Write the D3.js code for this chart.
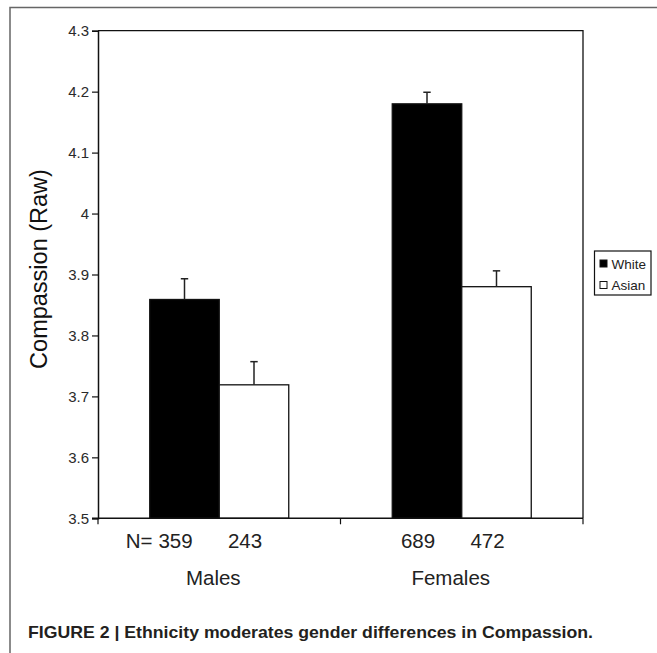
<!DOCTYPE html>
<html>
<head>
<meta charset="utf-8">
<script src="https://cdn.jsdelivr.net/npm/d3@7"></script>
<style>
  html, body { margin: 0; padding: 0; background: #fff; }
  svg { display: block; }
  text { font-family: "Liberation Sans", Arial, sans-serif; }
</style>
</head>
<body>
<svg id="chart" width="657" height="653"></svg>
<script>
// ---- data ----
const groups = ["Males", "Females"];
const series = ["White", "Asian"];
const means = [[3.859, 3.719], [4.180, 3.880]];   // [group][series]
const errors = [[0.034, 0.038], [0.019, 0.026]];
const counts = [[359, 243], [689, 472]];
const yTicks = [3.5, 3.6, 3.7, 3.8, 3.9, 4, 4.1, 4.2, 4.3];
const seriesFill = ["#000000", "#ffffff"];
const yTitle = "Compassion (Raw)";
const caption = "FIGURE 2 | Ethnicity moderates gender differences in Compassion.";

// ---- layout ----
const svg = d3.select("#chart");
const L = 98, R = 583, T = 30.7, B = 518.3;

// outer figure frame (top and left visible)
svg.append("path")
  .attr("d", `M10,653 L10,7.5 L657,7.5`)
  .attr("fill", "none").attr("stroke", "#666").attr("stroke-width", 1.5);

const y = d3.scaleLinear().domain([3.5, 4.3]).range([B, T]);
const x0 = d3.scaleBand().domain(groups).range([L, R]).padding(0);
const groupW = 139;
const x1 = d3.scaleBand().domain(series)
  .range([(x0.bandwidth() - groupW) / 2, (x0.bandwidth() + groupW) / 2]).padding(0);

// plot frame top and right
svg.append("path")
  .attr("d", `M${L},${T} L${R},${T} L${R},${B}`)
  .attr("fill", "none").attr("stroke", "#111").attr("stroke-width", 1.3);

// bars
const gBars = svg.append("g");
groups.forEach((g, gi) => {
  series.forEach((s, si) => {
    const bx = x0(g) + x1(s);
    gBars.append("rect")
      .attr("x", bx).attr("y", y(means[gi][si]))
      .attr("width", x1.bandwidth())
      .attr("height", B - y(means[gi][si]))
      .attr("fill", seriesFill[si])
      .attr("stroke", "#111").attr("stroke-width", 1.3);
    const cx = bx + x1.bandwidth() / 2;
    const top = y(means[gi][si] + errors[gi][si]);
    gBars.append("line")
      .attr("x1", cx).attr("x2", cx)
      .attr("y1", y(means[gi][si])).attr("y2", top)
      .attr("stroke", "#222").attr("stroke-width", 1.5);
    gBars.append("line")
      .attr("x1", cx - 3.7).attr("x2", cx + 3.7)
      .attr("y1", top).attr("y2", top)
      .attr("stroke", "#222").attr("stroke-width", 1.5);
  });
});

// y axis
const yAxis = svg.append("g")
  .attr("transform", `translate(${L},0)`)
  .call(d3.axisLeft(y).tickValues(yTicks).tickSize(6).tickPadding(3)
    .tickFormat(d => String(+d.toFixed(1))));
yAxis.select(".domain").attr("stroke", "#111").attr("stroke-width", 1.5);
yAxis.selectAll(".tick line").attr("stroke", "#111").attr("stroke-width", 1.2);
yAxis.selectAll(".tick text")
  .attr("font-size", 15).attr("fill", "#2a2a2a")
  .attr("font-family", "'Liberation Sans', Arial, sans-serif");

// x axis
const xAxis = svg.append("g")
  .attr("transform", `translate(0,${B})`)
  .call(d3.axisBottom(x0).tickSize(0).tickFormat(""));
xAxis.select(".domain").remove();
svg.append("line").attr("x1", L - 6).attr("x2", R).attr("y1", B).attr("y2", B)
  .attr("stroke", "#111").attr("stroke-width", 1.5);
const boundaries = [L, x0("Females"), R];
boundaries.forEach(bx => {
  svg.append("line").attr("x1", bx).attr("x2", bx).attr("y1", B).attr("y2", B + 6)
    .attr("stroke", "#111").attr("stroke-width", 1.2);
});

// N labels
groups.forEach((g, gi) => {
  series.forEach((s, si) => {
    const cx = x0(g) + x1(s) + x1.bandwidth() / 2 - 9;
    svg.append("text")
      .attr("x", cx).attr("y", 547.5)
      .attr("text-anchor", "middle")
      .attr("font-size", 20.5).attr("fill", "#222")
      .text(counts[gi][si]);
    if (gi === 0 && si === 0) {
      svg.append("text")
        .attr("x", cx - 23).attr("y", 547.5)
        .attr("text-anchor", "end")
        .attr("font-size", 20.5).attr("fill", "#222")
        .text("N=");
    }
  });
});

// group labels
groups.forEach((g, gi) => {
  svg.append("text")
    .attr("x", x0(g) + x0.bandwidth() / 2 - (gi === 0 ? 6 : 11)).attr("y", 585)
    .attr("text-anchor", "middle")
    .attr("font-size", 20.5).attr("fill", "#222")
    .text(g);
});

// y title
svg.append("text")
  .attr("transform", `translate(46.5,269) rotate(-90)`)
  .attr("text-anchor", "middle")
  .attr("font-size", 23.5).attr("fill", "#111")
  .text(yTitle);

// legend
const lg = svg.append("g");
lg.append("rect").attr("x", 594.5).attr("y", 251).attr("width", 56.5).attr("height", 44)
  .attr("fill", "#fff").attr("stroke", "#111").attr("stroke-width", 1.2);
series.forEach((s, si) => {
  const cy = 263.5 + si * 21.5;
  lg.append("rect").attr("x", 600).attr("y", cy - 3.5).attr("width", 7).attr("height", 7)
    .attr("fill", seriesFill[si]).attr("stroke", "#111").attr("stroke-width", 1);
  lg.append("text").attr("x", 611.5).attr("y", cy + 5)
    .attr("font-size", 13.5).attr("fill", "#222").text(s);
});

// caption
svg.append("text")
  .attr("x", 28).attr("y", 638)
  .attr("font-size", 16.5).attr("font-weight", "bold").attr("fill", "#231f20")
  .attr("textLength", 565).attr("lengthAdjust", "spacingAndGlyphs")
  .text(caption);
</script>
</body>
</html>
